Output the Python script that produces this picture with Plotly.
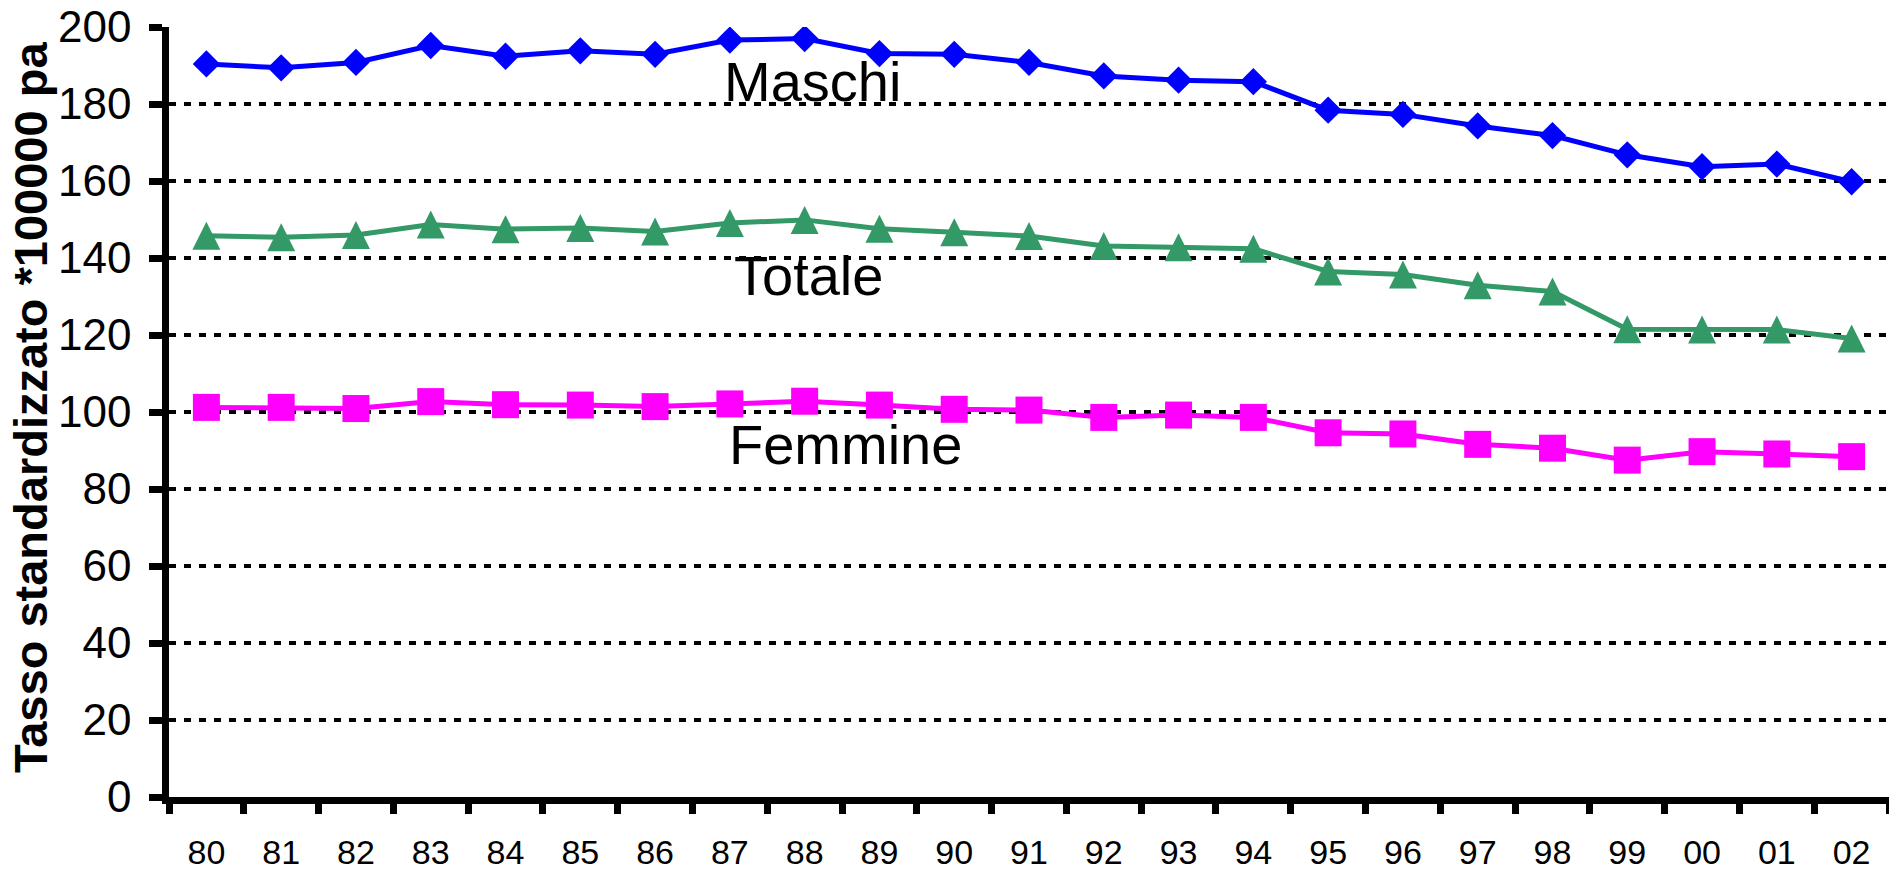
import plotly.graph_objects as go

years = ["80", "81", "82", "83", "84", "85", "86", "87", "88", "89", "90", "91",
         "92", "93", "94", "95", "96", "97", "98", "99", "00", "01", "02"]
maschi = [190.4, 189.4, 190.8, 195.2, 192.4, 193.8, 192.9, 196.6, 197.0, 193.1, 192.9, 190.8,
          187.3, 186.2, 185.8, 178.4, 177.3, 174.3, 171.8, 166.8, 163.7, 164.4, 159.8]
totale = [145.8, 145.4, 146.0, 148.7, 147.5, 147.8, 146.9, 149.1, 149.9, 147.6, 146.7, 145.7,
          143.1, 142.8, 142.4, 136.5, 135.7, 132.9, 131.3, 121.5, 121.4, 121.4, 119.1]
femmine = [101.2, 101.2, 100.9, 102.7, 101.9, 101.8, 101.4, 102.1, 102.8, 101.8, 100.7, 100.5,
           98.6, 99.2, 98.6, 94.6, 94.3, 91.6, 90.6, 87.5, 89.7, 89.1, 88.4]
y_ticks = [0, 20, 40, 60, 80, 100, 120, 140, 160, 180, 200]

BLUE = "#0000FF"
GREEN = "#339966"
MAGENTA = "#FF00FF"
FONT = "Arial, Liberation Sans, sans-serif"

W, H = 1889, 870
L, R, T, B = 169, 0, 27, 73
pw, ph = W - L - R, H - T - B

def px(x):
    return (x - L) / pw

def py(y):
    return (H - B - y) / ph

fig = go.Figure()

fig.add_trace(go.Scatter(x=years, y=femmine, mode="lines+markers", name="Femmine",
                         line=dict(color=MAGENTA, width=5),
                         marker=dict(symbol="square", size=27, color=MAGENTA)))
fig.add_trace(go.Scatter(x=years, y=totale, mode="lines", name="Totale",
                         line=dict(color=GREEN, width=5)))
# triangle markers (tip-anchored symbol) drawn on an overlaid axis offset by half a marker
fig.add_trace(go.Scatter(x=years, y=totale, mode="markers", name="Totale", yaxis="y2",
                         marker=dict(symbol="arrow-up", size=28, color=GREEN)))
fig.add_trace(go.Scatter(x=years, y=maschi, mode="lines+markers", name="Maschi",
                         line=dict(color=BLUE, width=5),
                         marker=dict(symbol="diamond", size=21, color=BLUE)))

off = 14.0 / (ph / 200.0)

fig.update_layout(
    width=W, height=H,
    margin=dict(l=L, r=R, t=T, b=B, pad=0, autoexpand=False),
    paper_bgcolor="white", plot_bgcolor="white",
    showlegend=False,
    font=dict(family=FONT, color="black"),
    xaxis=dict(type="category", range=[-0.5, 22.5], tickson="boundaries",
               ticks="outside", ticklen=10, tickwidth=6.5, tickcolor="black",
               showline=True, linewidth=6.5, linecolor="black",
               showgrid=False, zeroline=False, automargin=False,
               tickfont=dict(size=34, family=FONT, color="black"),
               ticklabelstandoff=19),
    yaxis=dict(range=[0, 200], tickvals=y_ticks, ticks="outside", ticklen=13,
               tickwidth=6.5, tickcolor="black",
               showline=True, linewidth=6.5, linecolor="black",
               showgrid=True, gridcolor="black", gridwidth=3.5, griddash="7px,8px",
               zeroline=False, automargin=False,
               tickfont=dict(size=44, family=FONT, color="black"),
               ticklabelstandoff=9),
    yaxis2=dict(range=[-off, 200 - off], overlaying="y", visible=False),
)

fig.add_annotation(text="<b>Tasso standardizzato *100000 pa</b>", textangle=-90,
                   xref="paper", yref="paper", x=px(30), y=py(408),
                   xanchor="center", yanchor="middle", showarrow=False,
                   font=dict(size=47, family=FONT, color="black"))

for txt, lx, cy in [("Maschi", 722, 81), ("Totale", 732, 275), ("Femmine", 727, 444)]:
    fig.add_annotation(text=txt, xref="paper", yref="paper", x=px(lx), y=py(cy),
                       xanchor="left", yanchor="middle", showarrow=False,
                       font=dict(size=56, family=FONT, color="black"))

fig.write_html("out.html")
